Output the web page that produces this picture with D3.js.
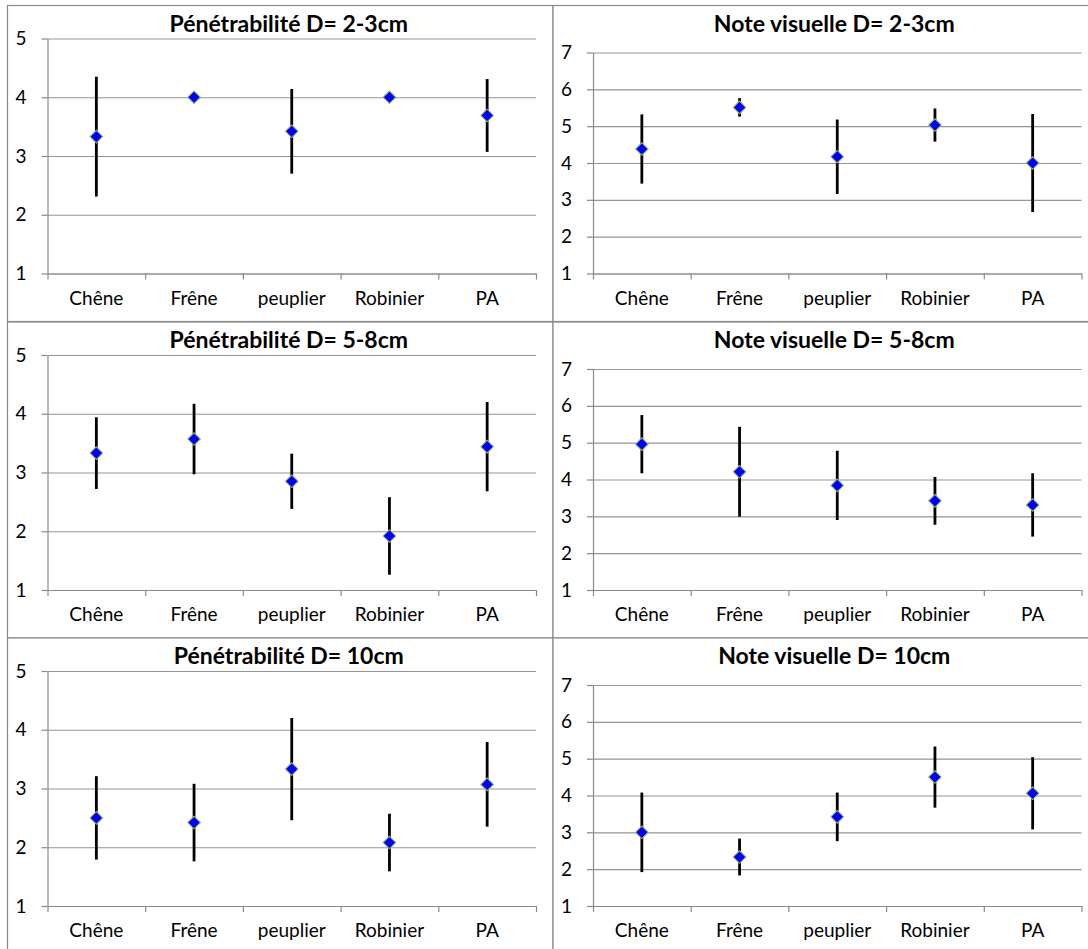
<!DOCTYPE html>
<html>
<head>
<meta charset="utf-8">
<script src="https://cdn.jsdelivr.net/npm/d3@7"></script>
<style>
  body { margin: 0; background: #fff; }
  text { font-family: Lato, "Open Sans", sans-serif; fill: #000; }
</style>
</head>
<body>
<div id="chart"></div>
<script>
// categories and tick labels
var categories = ["Chêne", "Frêne", "peuplier", "Robinier", "PA"];
var penTicks = [1, 2, 3, 4, 5];
var noteTicks = [1, 2, 3, 4, 5, 6, 7];

// mean values and error half-widths
var pen23 = [3.33, 4.00, 3.42, 4.00, 3.69];
var pen23Err = [1.02, 0, 0.72, 0, 0.62];
var note23 = [4.38, 5.51, 4.17, 5.03, 4.00];
var note23Err = [0.94, 0.25, 1.01, 0.45, 1.33];
var pen58 = [3.33, 3.57, 2.85, 1.92, 3.44];
var pen58Err = [0.61, 0.60, 0.47, 0.66, 0.76];
var note58 = [4.96, 4.21, 3.84, 3.42, 3.31];
var note58Err = [0.79, 1.22, 0.94, 0.65, 0.86];
var pen10 = [2.50, 2.42, 3.33, 2.08, 3.07];
var pen10Err = [0.71, 0.66, 0.87, 0.49, 0.72];
var note10 = [3.00, 2.33, 3.42, 4.50, 4.06];
var note10Err = [1.08, 0.50, 0.66, 0.83, 0.98];

var panels = [
  {title: "Pénétrabilité D= 2-3cm", values: pen23, err: pen23Err, ticks: penTicks, row: 0, col: 0},
  {title: "Note visuelle D= 2-3cm", values: note23, err: note23Err, ticks: noteTicks, row: 0, col: 1},
  {title: "Pénétrabilité D= 5-8cm", values: pen58, err: pen58Err, ticks: penTicks, row: 1, col: 0},
  {title: "Note visuelle D= 5-8cm", values: note58, err: note58Err, ticks: noteTicks, row: 1, col: 1},
  {title: "Pénétrabilité D= 10cm", values: pen10, err: pen10Err, ticks: penTicks, row: 2, col: 0},
  {title: "Note visuelle D= 10cm", values: note10, err: note10Err, ticks: noteTicks, row: 2, col: 1}
];

var W = 1088, H = 949;
var colX = [7.5, 553], rowY = [5.5, 322, 638];
var panelW = 545.5, panelH = 316;
var plotLeft = 40, plotW = 488.5, plotBottom = 268;

var svg = d3.select("#chart").append("svg")
    .attr("width", W)
    .attr("height", H);

panels.forEach(function(p) {
  var g = svg.append("g")
      .attr("transform", "translate(" + colX[p.col] + "," + rowY[p.row] + ")");

  // chart border
  g.append("rect")
      .attr("x", 0).attr("y", 0)
      .attr("width", panelW).attr("height", panelH)
      .attr("fill", "#fff")
      .attr("stroke", "#8a8a8a")
      .attr("stroke-width", 1.2);

  var plotTop = p.ticks.length > 5 ? 47 : 33;
  var plot = g.append("g").attr("transform", "translate(" + plotLeft + ",0)");

  var x = d3.scaleBand().domain(categories).range([0, plotW]);
  var xb = d3.scaleLinear().domain([0, categories.length]).range([0, plotW]);
  var y = d3.scaleLinear()
      .domain([d3.min(p.ticks), d3.max(p.ticks)])
      .range([plotBottom, plotTop]);

  // gridlines
  plot.append("g")
      .attr("class", "grid")
      .call(d3.axisLeft(y).tickValues(p.ticks).tickSize(-plotW).tickFormat(""))
      .call(function(s) { s.select(".domain").remove(); })
      .selectAll("line")
        .attr("stroke", "#959595")
        .attr("stroke-width", 1.1);

  // y axis
  var ya = plot.append("g")
      .call(d3.axisLeft(y).tickValues(p.ticks).tickFormat(d3.format("d"))
        .tickSize(6).tickPadding(15).tickSizeOuter(0));
  ya.select(".domain").attr("stroke", "#8a8a8a").attr("stroke-width", 1.2);
  ya.selectAll("line").attr("stroke", "#8a8a8a").attr("stroke-width", 1.2);
  ya.selectAll("text")
      .attr("font-size", 19)
      .attr("font-family", "Lato, sans-serif");

  // x axis: boundary ticks
  var xa = plot.append("g")
      .attr("transform", "translate(0," + plotBottom + ")")
      .call(d3.axisBottom(xb).tickValues(d3.range(categories.length + 1)).tickSize(6).tickFormat("").tickSizeOuter(0));
  xa.select(".domain").attr("stroke", "#8a8a8a").attr("stroke-width", 1.2);
  xa.selectAll("line").attr("stroke", "#8a8a8a").attr("stroke-width", 1.2);

  // category labels
  var xl = plot.append("g")
      .attr("transform", "translate(0," + plotBottom + ")")
      .call(d3.axisBottom(x).tickSize(0).tickPadding(18));
  xl.select(".domain").remove();
  xl.selectAll("text")
      .attr("font-size", 19)
      .attr("font-family", "Lato, sans-serif");

  // title
  g.append("text")
      .attr("x", plotLeft + plotW / 2 - 3)
      .attr("y", 26)
      .attr("text-anchor", "middle")
      .attr("font-weight", "bold")
      .attr("font-size", 23)
      .text(p.title);

  var pts = categories.map(function(c, i) {
    return {cat: c, v: p.values[i], e: p.err[i]};
  });

  // error bars
  plot.selectAll(".err")
      .data(pts.filter(function(d) { return d.e > 0; }))
      .enter().append("line")
        .attr("class", "err")
        .attr("x1", function(d) { return x(d.cat) + x.bandwidth() / 2; })
        .attr("x2", function(d) { return x(d.cat) + x.bandwidth() / 2; })
        .attr("y1", function(d) { return y(d.v - d.e); })
        .attr("y2", function(d) { return y(d.v + d.e); })
        .attr("stroke", "#000")
        .attr("stroke-width", 2.8);

  // diamond markers
  plot.selectAll(".pt")
      .data(pts)
      .enter().append("path")
        .attr("class", "pt")
        .attr("d", d3.symbol(d3.symbolSquare, 80))
        .attr("transform", function(d) {
          return "translate(" + (x(d.cat) + x.bandwidth() / 2) + "," + y(d.v) + ") rotate(45)";
        })
        .attr("fill", "#0000ff")
        .attr("stroke", "#9bbb59")
        .attr("stroke-width", 1);
});
</script>
</body>
</html>
